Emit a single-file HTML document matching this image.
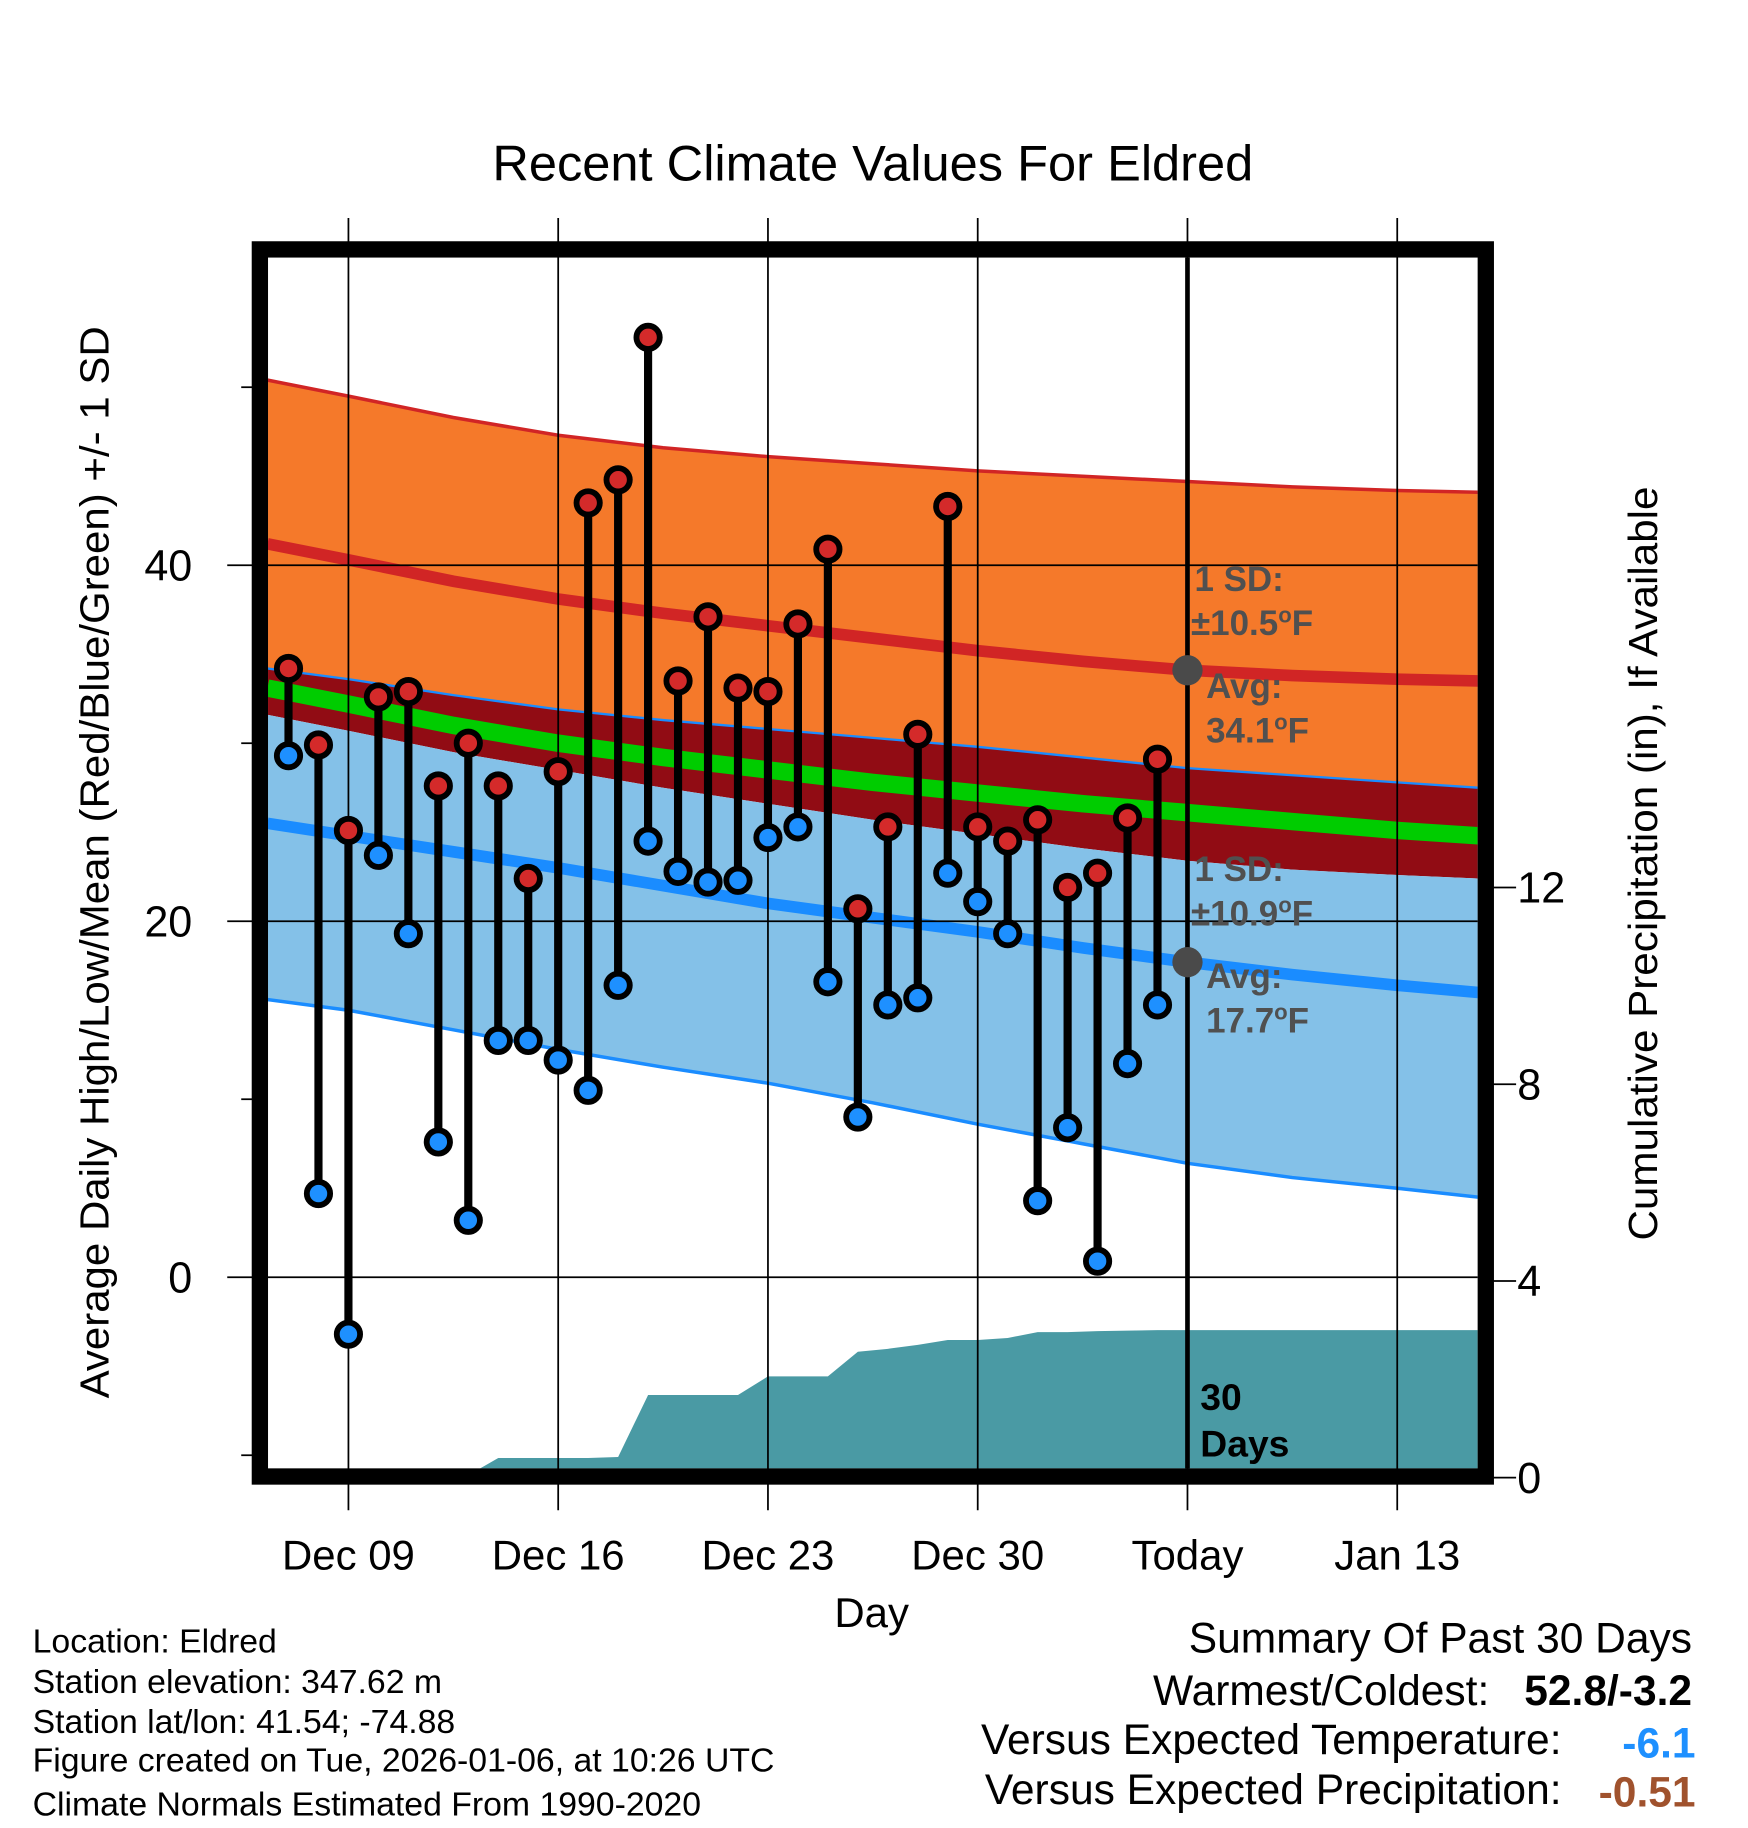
<!DOCTYPE html>
<html><head><meta charset="utf-8"><style>
html,body{margin:0;padding:0;background:#fff}
svg{display:block;font-family:"Liberation Sans",Arial,sans-serif}
</style></head><body>
<svg id="chart" width="1748" height="1828" viewBox="0 0 1500 1568.6" xmlns="http://www.w3.org/2000/svg"></svg>
<script>
// ---- data ----
const dayLabels = ["Dec 7","Dec 8","Dec 9","Dec 10","Dec 11","Dec 12","Dec 13","Dec 14","Dec 15","Dec 16","Dec 17","Dec 18","Dec 19","Dec 20","Dec 21","Dec 22","Dec 23","Dec 24","Dec 25","Dec 26","Dec 27","Dec 28","Dec 29","Dec 30","Dec 31","Jan 1","Jan 2","Jan 3","Jan 4","Jan 5"];
const dayOffsets = [-2,-1,0,1,2,3,4,5,6,7,8,9,10,11,12,13,14,15,16,17,18,19,20,21,22,23,24,25,26,27];
const highs = [34.2,29.9,25.1,32.6,32.9,27.6,30.0,27.6,22.4,28.4,43.5,44.8,52.8,33.5,37.1,33.1,32.9,36.7,40.9,20.7,25.3,30.5,43.3,25.3,24.5,25.7,21.9,22.7,25.8,29.1];
const lows = [29.3,4.7,-3.2,23.7,19.3,7.6,3.2,13.3,13.3,12.2,10.5,16.4,24.5,22.8,22.2,22.3,24.7,25.3,16.6,9.0,15.3,15.7,22.7,21.1,19.3,4.3,8.4,0.9,12.0,15.3];
const precipCum = [0,0,0,0,0,0,0.05,0.4,0.4,0.4,0.4,0.42,1.68,1.68,1.68,1.68,2.06,2.06,2.06,2.56,2.62,2.7,2.8,2.8,2.84,2.96,2.96,2.98,2.99,3.0];
const normDays = [-2.7,0,3.5,7,10.5,14,17.5,21,24.5,28,31.5,35,37.7];
const highPlusSD = [50.4,49.5,48.3,47.3,46.6,46.1,45.7,45.3,45.0,44.7,44.4,44.2,44.1];
const highMean = [41.2,40.3,39.1,38.1,37.3,36.6,35.9,35.2,34.6,34.1,33.8,33.6,33.5];
const highMinusSD = [34.2,33.6,32.7,31.9,31.3,30.8,30.3,29.8,29.2,28.6,28.2,27.8,27.5];
const meanTemp = [33.1,32.2,31.0,30.0,29.2,28.5,27.8,27.2,26.6,26.1,25.6,25.1,24.8];
const lowPlusSD = [31.6,30.7,29.5,28.5,27.5,26.6,25.7,24.9,24.1,23.4,22.9,22.6,22.4];
const lowMean = [25.5,24.8,23.9,23.0,22.0,21.0,20.2,19.4,18.5,17.7,17.0,16.4,16.0];
const lowMinusSD = [15.6,15.0,13.9,12.8,11.8,10.9,9.8,8.6,7.5,6.4,5.6,5.0,4.5];
const xTickDays = [0,7,14,21,28,35];
const xTickLabels = ["Dec 09","Dec 16","Dec 23","Dec 30","Today","Jan 13"];
const yTicks = [0,20,40];
const yMinor = [-10,10,30,50];
const pTicks = [0,4,8,12];

// ---- axes ----
const PL=230,PR=1268,PT=221,PB=1260;
const X = d => 299 + d*180/7;
const Y = v => 1096 - v*15.275;
const P = v => 1268 - v*42.2;
const NS="http://www.w3.org/2000/svg";
const svg=document.getElementById('chart');
function mk(tag,attrs,parent){const e=document.createElementNS(NS,tag);for(const k in attrs)e.setAttribute(k,attrs[k]);(parent||svg).appendChild(e);return e;}
function txt(s,attrs,parent){const e=mk('text',attrs,parent);e.textContent=s;return e;}
function degTxt(pre,attrs,parent){const e=mk('text',attrs,parent);e.appendChild(document.createTextNode(pre));
  const a=mk('tspan',{dy:-11,'font-size':19},e);a.textContent='o';
  const b=mk('tspan',{dy:11},e);b.textContent='F';return e;}

const defs=mk('defs',{});
const cp=mk('clipPath',{id:'plotclip'},defs);
mk('rect',{x:PL,y:PT,width:PR-PL,height:PB-PT},cp);
const g=mk('g',{'clip-path':'url(#plotclip)'});



function linePts(arr){return normDays.map((d,i)=>X(d)+','+Y(arr[i])).join(' ');}
function band(top,bot,fill,name){
  const pts=normDays.map((d,i)=>X(d)+','+Y(top[i])).concat(normDays.slice().reverse().map((d,j)=>{const i=normDays.length-1-j;return X(d)+','+Y(bot[i]);}));
  const p=mk('polygon',{points:pts.join(' '),fill:fill},g);
  
  
}
band(highPlusSD,highMinusSD,'#f5792a','high-sd-band');
band(highMinusSD,lowPlusSD,'#910c14','overlap-band');
band(lowPlusSD,lowMinusSD,'#84c1e8','low-sd-band');
function pl(arr,color,w,name){const e=mk('polyline',{points:linePts(arr),fill:'none',stroke:color,'stroke-width':w},g);}
pl(highPlusSD,'#d12525',3,'high-upper-line');
pl(highMean,'#d12525',10,'high-mean-line');
pl(highMinusSD,'#1a8cff',2,'high-lower-line');
pl(meanTemp,'#00cc00',15,'mean-line');
pl(lowMean,'#1a8cff',10,'low-mean-line');
pl(lowMinusSD,'#1a8cff',3,'low-lower-line');

{
  const pts=[X(-2.7)+','+P(precipCum[0])];
  dayOffsets.forEach((d,i)=>pts.push(X(d)+','+P(precipCum[i])));
  pts.push(X(37.7)+','+P(precipCum[precipCum.length-1]));
  pts.push(X(37.7)+','+P(0));pts.push(X(-2.7)+','+P(0));
  const e=mk('polygon',{points:pts.join(' '),fill:'#4a9aa4'},g);
  
  
}

yTicks.forEach(v=>{mk('line',{x1:195,x2:PR,y1:Y(v),y2:Y(v),stroke:'#000','stroke-width':1.5});});
yMinor.forEach(v=>{mk('line',{x1:207,x2:218,y1:Y(v),y2:Y(v),stroke:'#000','stroke-width':1.5});});
xTickDays.forEach((d,i)=>{ if(i!==4) mk('line',{x1:X(d),x2:X(d),y1:187,y2:1296,stroke:'#000','stroke-width':1.5});});
pTicks.forEach(v=>{mk('line',{x1:1280,x2:1301,y1:P(v),y2:P(v),stroke:'#000','stroke-width':1.5});});
{mk('line',{x1:X(28),x2:X(28),y1:187,y2:1296,stroke:'#000','stroke-width':1.5});
 const t=mk('line',{x1:X(28),x2:X(28),y1:PT,y2:PB,stroke:'#000','stroke-width':4});
 }

const lab=mk('g',{fill:'#505050','font-weight':'bold','font-size':30});

txt('1 SD:',{x:1025,y:507},lab);degTxt('±10.5',{x:1022,y:545},lab);
txt('Avg:',{x:1035,y:599},lab);degTxt('34.1',{x:1035,y:637},lab);
txt('1 SD:',{x:1025,y:756},lab);degTxt('±10.9',{x:1022,y:794},lab);
txt('Avg:',{x:1035,y:848},lab);degTxt('17.7',{x:1035,y:886},lab);
mk('circle',{cx:X(28),cy:Y(34.1),r:13,fill:'#4a4a4a'});
mk('circle',{cx:X(28),cy:Y(17.7),r:13,fill:'#4a4a4a'});
txt('30',{x:1030,y:1210,'font-size':32,'font-weight':'bold'});
txt('Days',{x:1030,y:1250,'font-size':32,'font-weight':'bold'});

dayOffsets.forEach((d,i)=>{
  const gg=mk('g',{});
  
  
  mk('line',{x1:X(d),x2:X(d),y1:Y(highs[i]),y2:Y(lows[i]),stroke:'#000','stroke-width':7},gg);
  const h=mk('circle',{cx:X(d),cy:Y(highs[i]),r:10,fill:'#d42a2a',stroke:'#000','stroke-width':5},gg);
  
  const l=mk('circle',{cx:X(d),cy:Y(lows[i]),r:10,fill:'#1e90ff',stroke:'#000','stroke-width':5},gg);
  
});

{const f=mk('rect',{x:223,y:214,width:1052,height:1053,fill:'none',stroke:'#000','stroke-width':14});
 }

yTicks.forEach(v=>{const t=txt(String(v),{x:165,y:Y(v)+13,'font-size':37,'text-anchor':'end'});});
pTicks.forEach(v=>{const t=txt(String(v),{x:1302,y:P(v)+13,'font-size':37});});
xTickDays.forEach((d,i)=>{const t=txt(xTickLabels[i],{x:X(d),y:1347,'font-size':36,'text-anchor':'middle'});});
</script>
<script>
(function(){
const svg=document.getElementById('chart');const NS="http://www.w3.org/2000/svg";
function t(s,a,name){const e=document.createElementNS(NS,'text');for(const k in a)e.setAttribute(k,a[k]);e.textContent=s;


svg.appendChild(e);return e;}
t('Recent Climate Values For Eldred',{x:749,y:155,'font-size':43,'text-anchor':'middle',textLength:653,lengthAdjust:'spacingAndGlyphs'},'chart-title');
t('Day',{x:748,y:1396,'font-size':36,'text-anchor':'middle'},'x-axis-title');
t('Average Daily High/Low/Mean (Red/Blue/Green) +/- 1 SD',{x:0,y:0,'font-size':35,'text-anchor':'middle',textLength:920,lengthAdjust:'spacingAndGlyphs',transform:'translate(93,740) rotate(-90)'},'y-axis-title');
t('Cumulative Precipitation (in), If Available',{x:0,y:0,'font-size':35,'text-anchor':'middle',textLength:647,lengthAdjust:'spacingAndGlyphs',transform:'translate(1422,741) rotate(-90)'},'precip-axis-title');
const info=['Location: Eldred','Station elevation: 347.62 m','Station lat/lon: 41.54; -74.88','Figure created on Tue, 2026-01-06, at 10:26 UTC','Climate Normals Estimated From 1990-2020'];
const ys=[1418,1453,1487,1520,1558];
info.forEach((s,i)=>t(s,{x:28,y:ys[i],'font-size':29},'station-info-line'));
t('Summary Of Past 30 Days',{x:1452,y:1418,'font-size':36.5,'text-anchor':'end'},'summary-title');
t('Warmest/Coldest:',{x:1278,y:1463,'font-size':36.5,'text-anchor':'end'},'warmest-coldest-label');
t('52.8/-3.2',{x:1452,y:1463,'font-size':36.5,'text-anchor':'end','font-weight':'bold'},'warmest-coldest-value');
t('Versus Expected Temperature:',{x:1340,y:1505,'font-size':36.5,'text-anchor':'end'},'temp-anomaly-label');
t('-6.1',{x:1455,y:1508,'font-size':36.5,'text-anchor':'end','font-weight':'bold',fill:'#1e90ff'},'temp-anomaly-value');
t('Versus Expected Precipitation:',{x:1340,y:1548,'font-size':36.5,'text-anchor':'end'},'precip-anomaly-label');
t('-0.51',{x:1455,y:1550,'font-size':36.5,'text-anchor':'end','font-weight':'bold',fill:'#a0522d'},'precip-anomaly-value');
})();
</script>
</body></html>
